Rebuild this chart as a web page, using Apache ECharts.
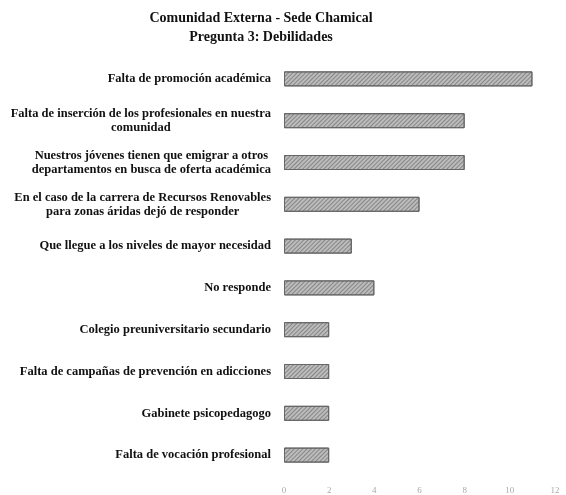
<!DOCTYPE html>
<html>
<head>
<meta charset="utf-8">
<script src="https://cdn.jsdelivr.net/npm/echarts@6/dist/echarts.min.js"></script>
<style>
  html, body { margin: 0; padding: 0; background: #fff; }
  #chart-view { width: 566px; height: 495px; }
</style>
</head>
<body>
<div id="chart-view"></div>
<script>
  // categorias (de arriba hacia abajo)
  const categorias = [
    'Falta de promoción académica',
    'Falta de inserción de los profesionales en nuestra\ncomunidad',
    'Nuestros jóvenes tienen que emigrar a otros\ndepartamentos en busca de oferta académica',
    'En el caso de la carrera de Recursos Renovables\npara zonas áridas dejó de responder',
    'Que llegue a los niveles de mayor necesidad',
    'No responde',
    'Colegio preuniversitario secundario',
    'Falta de campañas de prevención en adicciones',
    'Gabinete psicopedagogo',
    'Falta de vocación profesional'
  ]
  const respuestas = [11, 8, 8, 6, 3, 4, 2, 2, 2, 2]
  const ticks = [0, 2, 4, 6, 8, 10, 12]

  const chartLine = echarts.init(document.getElementById('chart-view'))
  const serif = '"Liberation Serif", "DejaVu Serif", serif'

  const option = {
    animation: false,
    title: {
      text: 'Comunidad Externa - Sede Chamical\nPregunta 3: Debilidades',
      left: 256,
      textAlign: 'center',
      top: 4,
      textStyle: {
        fontFamily: serif,
        fontSize: 14,
        fontWeight: 'bold',
        color: '#111',
        lineHeight: 19
      }
    },
    grid: {
      left: 284,
      right: 11,
      top: 58,
      bottom: 17
    },
    xAxis: {
      type: 'value',
      min: ticks[0],
      max: ticks[ticks.length - 1],
      interval: 2,
      axisLine: { show: false },
      axisTick: { show: false },
      splitLine: { show: false },
      axisLabel: {
        margin: 10,
        color: '#aaa',
        fontSize: 9,
        fontFamily: serif
      }
    },
    yAxis: {
      type: 'category',
      inverse: true,
      data: categorias,
      axisLine: { show: false },
      axisTick: { show: false },
      axisLabel: {
        margin: 13,
        interval: 0,
        formatter: (v) => v.split('\n').map(s => '{c|' + s + '}').join('\n'),
        rich: {
          c: {
            align: 'center',
            fontFamily: serif,
            fontSize: 12.5,
            fontWeight: 'bold',
            color: '#111',
            lineHeight: 14
          }
        }
      }
    },
    series: [
      {
        type: 'bar',
        data: respuestas,
        barWidth: 15,
        itemStyle: {
          color: '#bcbcbc',
          borderColor: '#666',
          borderWidth: 1,
          decal: {
            symbol: 'rect',
            dashArrayX: [1, 0],
            dashArrayY: [1, 2],
            rotation: -Math.PI / 4,
            color: 'rgba(80,80,80,0.5)'
          }
        }
      }
    ]
  }

  chartLine.setOption(option)
</script>
</body>
</html>
